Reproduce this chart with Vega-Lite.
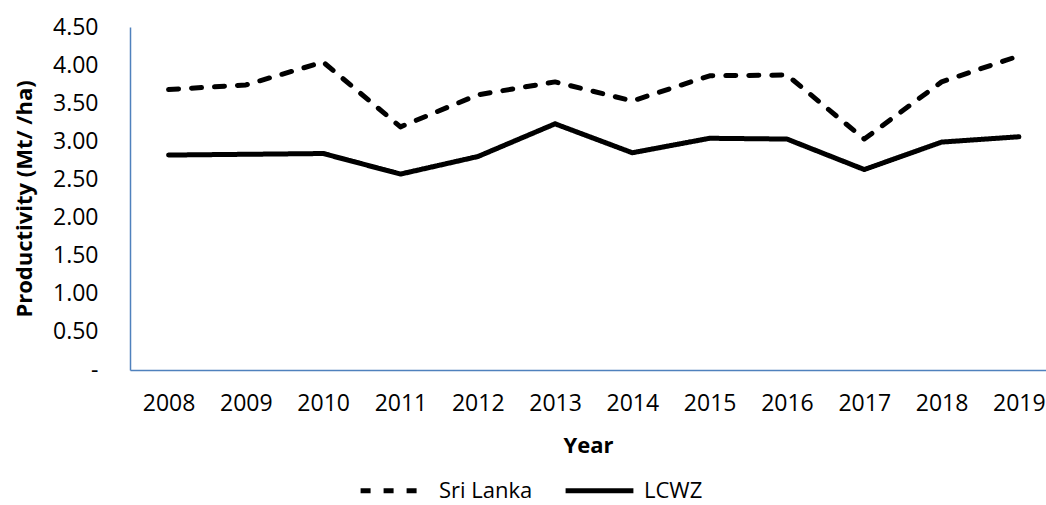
{
  "$schema": "https://vega.github.io/schema/vega-lite/v6.json",
  "width": 916,
  "height": 343,
  "autosize": {"type": "none"},
  "padding": {"left": 130, "top": 27, "right": 0, "bottom": 135},
  "background": "white",
  "config": {
    "view": {"stroke": null},
    "font": "Open Sans"
  },
  "data": {
    "values": [
      {"Year": "2008", "Series": "Sri Lanka", "Value": 3.68},
      {"Year": "2009", "Series": "Sri Lanka", "Value": 3.74},
      {"Year": "2010", "Series": "Sri Lanka", "Value": 4.04},
      {"Year": "2011", "Series": "Sri Lanka", "Value": 3.19},
      {"Year": "2012", "Series": "Sri Lanka", "Value": 3.61},
      {"Year": "2013", "Series": "Sri Lanka", "Value": 3.78},
      {"Year": "2014", "Series": "Sri Lanka", "Value": 3.53},
      {"Year": "2015", "Series": "Sri Lanka", "Value": 3.86},
      {"Year": "2016", "Series": "Sri Lanka", "Value": 3.87},
      {"Year": "2017", "Series": "Sri Lanka", "Value": 3.03},
      {"Year": "2018", "Series": "Sri Lanka", "Value": 3.78},
      {"Year": "2019", "Series": "Sri Lanka", "Value": 4.12},
      {"Year": "2008", "Series": "LCWZ", "Value": 2.82},
      {"Year": "2009", "Series": "LCWZ", "Value": 2.83},
      {"Year": "2010", "Series": "LCWZ", "Value": 2.84},
      {"Year": "2011", "Series": "LCWZ", "Value": 2.57},
      {"Year": "2012", "Series": "LCWZ", "Value": 2.80},
      {"Year": "2013", "Series": "LCWZ", "Value": 3.23},
      {"Year": "2014", "Series": "LCWZ", "Value": 2.85},
      {"Year": "2015", "Series": "LCWZ", "Value": 3.04},
      {"Year": "2016", "Series": "LCWZ", "Value": 3.03},
      {"Year": "2017", "Series": "LCWZ", "Value": 2.63},
      {"Year": "2018", "Series": "LCWZ", "Value": 2.99},
      {"Year": "2019", "Series": "LCWZ", "Value": 3.06}
    ]
  },
  "mark": {"type": "line", "strokeWidth": 5, "strokeCap": "round", "strokeJoin": "round"},
  "encoding": {
    "x": {
      "field": "Year",
      "type": "ordinal",
      "scale": {"type": "point", "padding": 0.425, "align": 0.587},
      "axis": {
        "title": "Year",
        "titleFontSize": 22,
        "titleFontWeight": "bold",
        "titleColor": "black",
        "titlePadding": 20,
        "labelAngle": 0,
        "labelFontSize": 23,
        "labelColor": "black",
        "labelPadding": 22,
        "ticks": false,
        "tickSize": 0,
        "domainColor": "#4F81BD",
        "domainWidth": 1.5,
        "grid": false
      }
    },
    "y": {
      "field": "Value",
      "type": "quantitative",
      "scale": {"domain": [0, 4.5], "nice": false, "zero": true},
      "axis": {
        "title": "Productivity (Mt/ /ha)",
        "titleFontSize": 22,
        "titleFontWeight": "bold",
        "titleColor": "black",
        "titlePadding": 16,
        "values": [0, 0.5, 1, 1.5, 2, 2.5, 3, 3.5, 4, 4.5],
        "labelExpr": "datum.value == 0 ? '-' : format(datum.value, '.2f')",
        "labelFontSize": 23,
        "labelColor": "black",
        "labelPadding": 32,
        "ticks": false,
        "tickSize": 0,
        "domainColor": "#4F81BD",
        "domainWidth": 1.5,
        "grid": false
      }
    },
    "color": {
      "field": "Series",
      "type": "nominal",
      "scale": {"domain": ["Sri Lanka", "LCWZ"], "range": ["black", "black"]},
      "legend": {
        "title": null,
        "orient": "none",
        "direction": "horizontal",
        "legendX": 228,
        "legendY": 427,
        "symbolType": "stroke",
        "symbolSize": 4600,
        "symbolStrokeWidth": 5,
        "labelFontSize": 22,
        "labelColor": "black",
        "labelOffset": 8,
        "columnPadding": 22
      }
    },
    "strokeDash": {
      "field": "Series",
      "type": "nominal",
      "scale": {"domain": ["Sri Lanka", "LCWZ"], "range": [[10, 13], [1, 0]]},
      "legend": null
    }
  }
}
